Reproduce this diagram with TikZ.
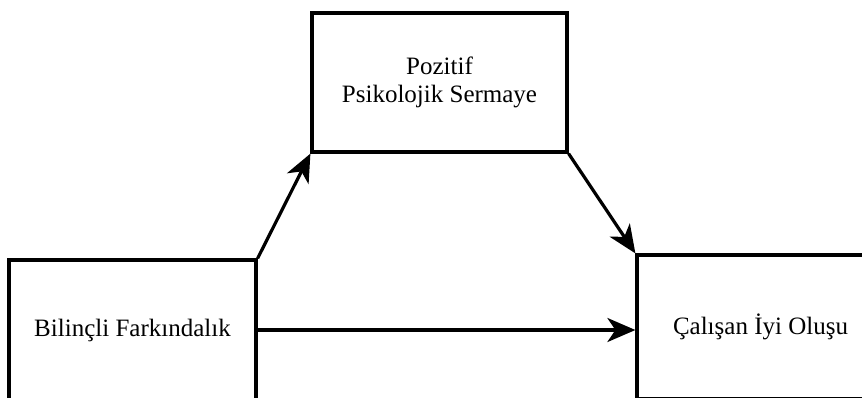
\documentclass[tikz,border=0pt]{standalone}
\usepackage{fontspec}
\setmainfont{Liberation Serif}
\usetikzlibrary{positioning,
        arrows.meta}

\tikzset{
    box/.style={rectangle,draw,line width=3.2pt,minimum width=247pt,inner sep=0pt,
        align=center,font=\fontsize{25}{28}\selectfont},
    arr/.style={-{Stealth[length=28pt,width=24pt,inset=8pt]},line width=3.2pt}
}

\begin{document}
\begin{tikzpicture}[x=1pt,y=-1pt]
    \clip (0,0) rectangle (862,397);
    \node [box,minimum width=255pt,minimum height=139pt] (psy) at (439.5,82.5) {Pozitif\\Psikolojik Sermaye};
    \node [box,minimum height=140pt] (aware) at (132.5,330) {Bilinçli Farkındalık};
    \node [box,minimum height=144pt] (well) at (760.5,327) {Çalışan İyi Oluşu};

    \draw [arr] (aware.north east) -- (psy.south west);
    \draw [arr] (psy.south east) -- (well.north west);
    \draw [arr] (aware.east |- 0,330) -- (well.west |- 0,330);
\end{tikzpicture}
\end{document}
